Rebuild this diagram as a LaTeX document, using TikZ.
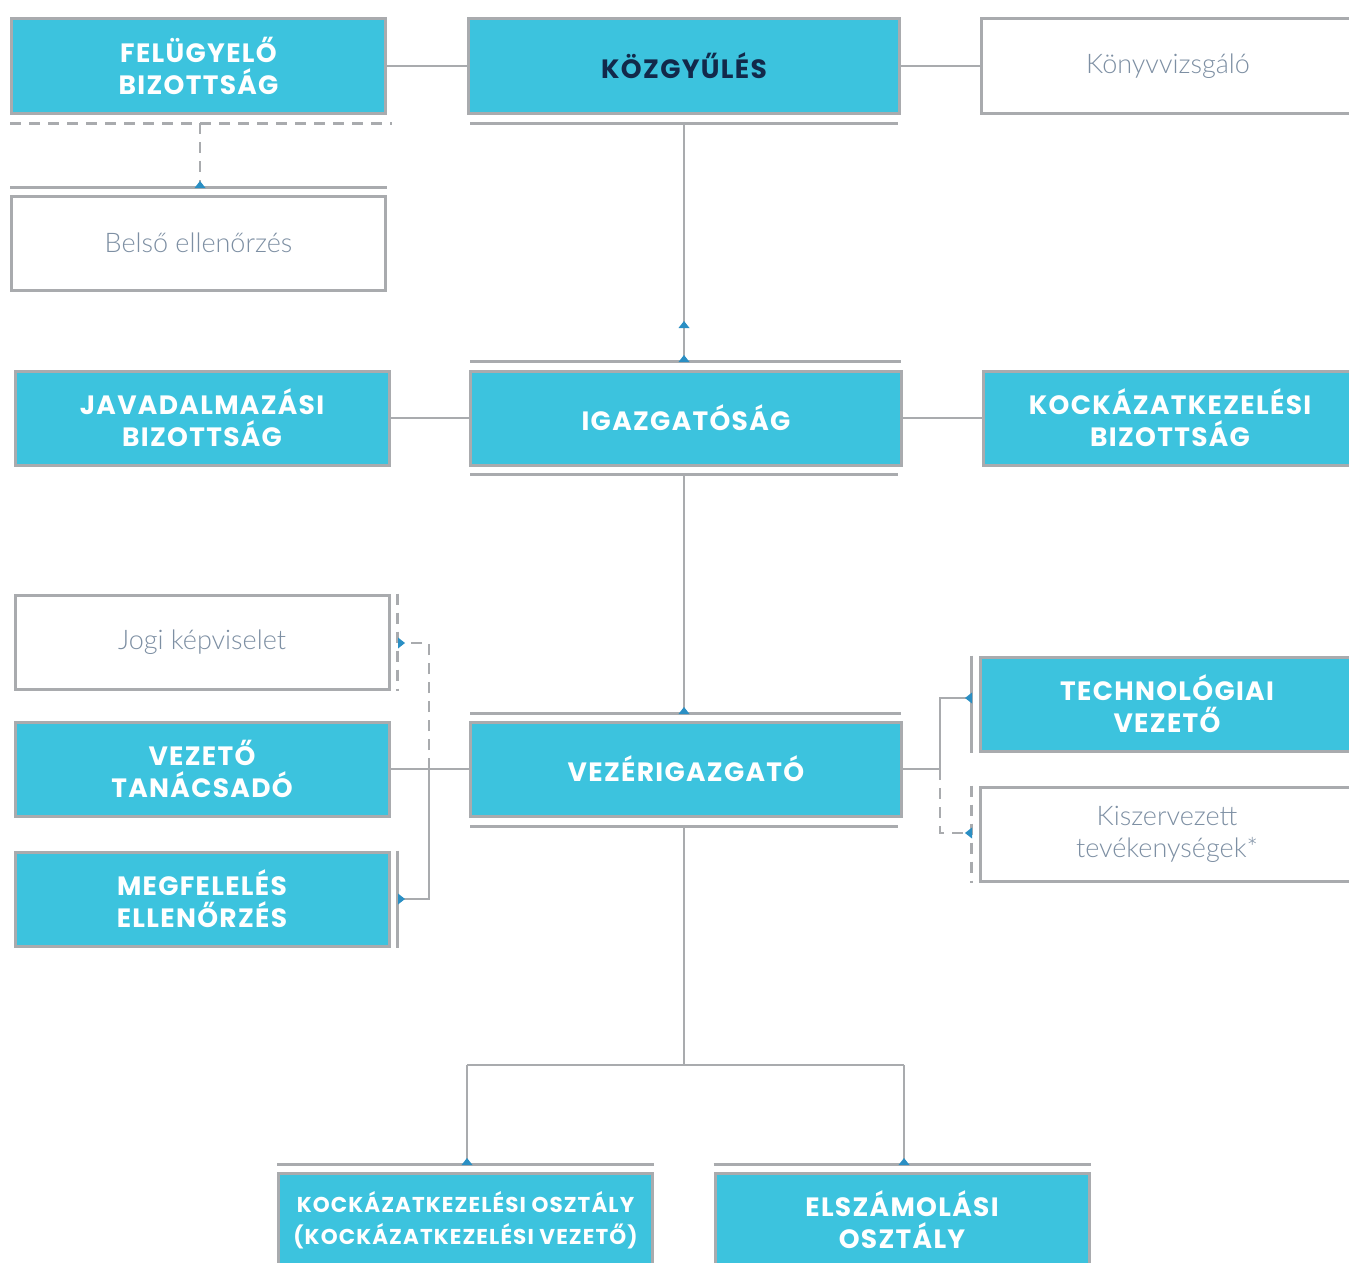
\documentclass[tikz,border=0pt]{standalone}
\usepackage{fontspec}
\usetikzlibrary{calc}
\newfontfamily\boxfont{Poppins}[LetterSpace=5]
\newfontfamily\lightfont{Lato Light}
\definecolor{boxcyan}{HTML}{3CC3DE}
\definecolor{linegray}{HTML}{A9ABAE}
\definecolor{triblue}{HTML}{2A8FC4}
\definecolor{navy}{HTML}{12294A}
\definecolor{lighttext}{HTML}{7D8FA3}
\begin{document}
\begin{tikzpicture}[x=1pt,y=-1pt,
  cbox/.style={draw=linegray,line width=3pt,fill=boxcyan,minimum width=374pt,minimum height=94pt,inner sep=0pt,align=center,text=white,font=\boxfont\bfseries\fontsize{26.5}{32}\selectfont},
  wide/.style={minimum width=431pt},
  wbox/.style={draw=linegray,line width=3pt,fill=white,minimum width=374pt,minimum height=94pt,inner sep=0pt,align=center,text=lighttext,font=\lightfont\fontsize{27}{32}\selectfont},
  conn/.style={draw=linegray,line width=2.5pt},
  bar/.style={draw=linegray,line width=3pt},
  dsh/.style={dash pattern=on 11pt off 8pt},
  tri/.pic={\fill[triblue] (-5.5,0) -- (5.5,0) -- (0,-7) -- cycle;}
]
\useasboundingbox (0,0) rectangle (1349,1263);
\clip (0,0) rectangle (1349,1263);
\fill[white] (0,0) rectangle (1349,1263);

% nodes
\node[cbox] (felugy) at (198.5,66) {FELÜGYELŐ\\BIZOTTSÁG};
\node[cbox,wide,text=navy] (kozgy) at (684,66) {KÖZGYŰLÉS};
\node[wbox] (konyv) at (1168,66) {Könyvvizsgáló};
\node[wbox] (belso) at (198.5,243) {Belső ellenőrzés};
\node[cbox] (javad) at (202,418) {JAVADALMAZÁSI\\BIZOTTSÁG};
\node[cbox,wide] (igaz) at (686,418) {IGAZGATÓSÁG};
\node[cbox] (kockb) at (1170,418) {KOCKÁZATKEZELÉSI\\BIZOTTSÁG};
\node[wbox] (jogi) at (202,642) {Jogi képviselet};
\node[cbox] (vezt) at (202,769) {VEZETŐ\\TANÁCSADÓ};
\node[cbox] (megf) at (202,899) {MEGFELELÉS\\ELLENŐRZÉS};
\node[cbox,wide] (vez) at (686,769) {VEZÉRIGAZGATÓ};
\node[cbox] (tech) at (1167,704) {TECHNOLÓGIAI\\VEZETŐ};
\node[wbox] (kisz) at (1167,834) {Kiszervezett\\tevékenységek*};
\node[cbox,font=\boxfont\bfseries\fontsize{21.5}{32}\selectfont] (kocko) at (465.5,1220) {KOCKÁZATKEZELÉSI OSZTÁLY\\(KOCKÁZATKEZELÉSI VEZETŐ)};
\node[cbox] (elsz) at (902,1220) {ELSZÁMOLÁSI\\OSZTÁLY};

% bars
\draw[bar] ($(kozgy.south west)+(3,9)$) -- ($(kozgy.south east)+(-3,9)$);
\draw[bar,dsh] ($(felugy.south west)+(0,9)$) -- ($(felugy.south east)+(5,9)$);
\draw[bar] ($(belso.north west)+(0,-7)$) -- ($(belso.north east)+(0,-7)$);
\draw[bar] ($(igaz.north west)+(1,-8)$) -- ($(igaz.north east)+(-2,-8)$);
\draw[bar] ($(igaz.south west)+(1,8)$) -- ($(igaz.south east)+(-5,8)$);
\draw[bar] ($(vez.north west)+(1,-7)$) -- ($(vez.north east)+(-2,-7)$);
\draw[bar] ($(vez.south west)+(1,9)$) -- ($(vez.south east)+(-5,9)$);
\draw[bar,dsh] ($(jogi.north east)+(7,0)$) -- ($(jogi.south east)+(7,0)$);
\draw[bar] ($(megf.north east)+(7,0)$) -- ($(megf.south east)+(7,0)$);
\draw[bar] ($(tech.north west)+(-7,0)$) -- ($(tech.south west)+(-7,0)$);
\draw[bar,dsh] ($(kisz.north west)+(-7,0)$) -- ($(kisz.south west)+(-7,0)$);
\draw[bar] ($(kocko.north west)+(0,-7)$) -- ($(kocko.north east)+(0,-7)$);
\draw[bar] ($(elsz.north west)+(0,-7)$) -- ($(elsz.north east)+(0,-7)$);

% coordinates
\coordinate (kzb) at (684,123);
\coordinate (iga) at (684,362);
\coordinate (igb) at (684,474);
\coordinate (vza) at (684,714);
\coordinate (vzb) at (684,826);
\coordinate (fb) at (200,123);
\coordinate (ba) at (200,188);
\coordinate (lj) at (429,643);
\coordinate (lm) at (429,769);
\coordinate (lb) at (429,899);
\coordinate (jj) at (398,643);
\coordinate (mm) at (398,899);
\coordinate (rv) at (940,769);
\coordinate (rt) at (940,698);
\coordinate (rk) at (940,833);
\coordinate (tt) at (972,698);
\coordinate (kk) at (972,833);
\coordinate (bm) at (684,1065);
\coordinate (bl) at (467,1065);
\coordinate (br) at (904,1065);
\coordinate (bla) at (467,1165);
\coordinate (bra) at (904,1165);

% connectors
\draw[conn] (felugy.east) -- (kozgy.west);
\draw[conn] (kozgy.east) -- (konyv.west);
\draw[conn] (javad.east) -- (igaz.west);
\draw[conn] (igaz.east) -- (kockb.west);
\draw[conn] (vezt.east) -- (vez.west);
\draw[conn] (kzb) -- (iga);
\draw[conn] (igb) -- (vza);
\draw[conn,dsh] (fb) -- (ba);
\draw[conn,dsh] (lm) -- (lj) -- (jj);
\draw[conn] (lm) -- (lb) -- (mm);
\draw[conn] (vez.east) -- (rv);
\draw[conn] (rv) -- (rt) -- (tt);
\draw[conn,dsh] (rv) -- (rk) -- (kk);
\draw[conn] (vzb) -- (bm);
\draw[conn] (bl) -- (br);
\draw[conn] (bl) -- (bla);
\draw[conn] (br) -- (bra);

% markers
\pic at (684,328) {tri};
\pic at (iga) {tri};
\pic at (vza) {tri};
\pic at (ba) {tri};
\pic[rotate=-90] at (jj) {tri};
\pic[rotate=-90] at (mm) {tri};
\pic[rotate=90] at (tt) {tri};
\pic[rotate=90] at (kk) {tri};
\pic at (bla) {tri};
\pic at (bra) {tri};
\end{tikzpicture}
\end{document}
